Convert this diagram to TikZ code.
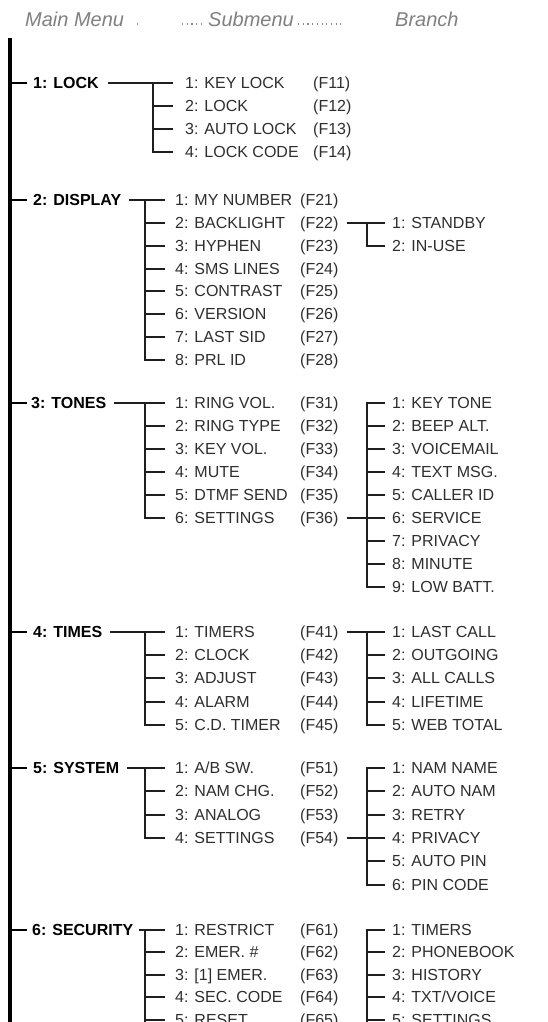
\documentclass[tikz,border=0pt]{standalone}
\usepackage{fontspec}
\setmainfont{Liberation Sans}
\begin{document}
\begin{tikzpicture}[x=1pt,y=-1pt,
  txt/.style={anchor=west,inner sep=0pt,text height=11.7pt,text depth=0pt,font=\fontsize{16pt}{16pt}\selectfont,text=black!82},
  mainlbl/.style={txt,font=\fontsize{16pt}{16pt}\selectfont\bfseries,text=black},
  hdr/.style={anchor=west,inner sep=0pt,text height=14.6pt,text depth=0pt,font=\fontsize{20pt}{20pt}\selectfont\itshape,text=black!50},
  hdrdots/.style={black!45,line width=1.1pt,dash pattern=on 1.1pt off 3.6pt},
  conn/.style={line width=1.8pt,black!88},
  spine/.style={line width=3.6pt,black},
  tick/.style={line width=2.6pt,black},
]
\useasboundingbox (0,0) rectangle (547,1022);
\clip (0,0) rectangle (547,1022);

% header
\node[hdr] (hm) at (25,19) {Main Menu};
\node[hdr] (hs) at (208,19) {Submenu};
\node[hdr] (hb) at (395,19) {Branch};
\draw[hdrdots] ([xshift=13pt,yshift=-5pt]hm.east) -- ++(1,0);
\draw[hdrdots] ([xshift=-26pt,yshift=-5pt]hs.west) -- ([xshift=-5pt,yshift=-5pt]hs.west);
\draw[hdrdots] ([xshift=4pt,yshift=-5pt]hs.east) -- ([xshift=50pt,yshift=-5pt]hs.east);

% spine
\coordinate (top) at (10,38);
\coordinate (bot) at (10,1030);
\draw[spine] (top) -- (bot);

% ---------- 1: LOCK ----------
\node[mainlbl] (m1) at (33,83) {1: LOCK};
\node[txt] (s11) at (185,83) {1: KEY LOCK};   \node[txt] (f11) at (313,83) {(F11)};
\node[txt] (s12) at (185,106) {2: LOCK};      \node[txt] (f12) at (313,106) {(F12)};
\node[txt] (s13) at (185,129) {3: AUTO LOCK}; \node[txt] (f13) at (313,129) {(F13)};
\node[txt] (s14) at (185,152) {4: LOCK CODE}; \node[txt] (f14) at (313,152) {(F14)};
\draw[tick] (top |- m1.west) -- ([xshift=-6pt]m1.west);
\coordinate (v1) at (153,0);
\draw[conn] ([xshift=9pt]m1.east) -- ([xshift=-12pt]s11.west);
\draw[conn] (v1 |- s11.west) |- ([xshift=-12pt]s14.west);
\foreach \s in {s12,s13} \draw[conn] (v1 |- \s.west) -- ([xshift=-12pt]\s.west);

% ---------- 2: DISPLAY ----------
\node[mainlbl] (m2) at (33,200) {2: DISPLAY};
\node[txt] (s21) at (175,200) {1: MY NUMBER}; \node[txt] (f21) at (300,200) {(F21)};
\node[txt] (s22) at (175,223) {2: BACKLIGHT}; \node[txt] (f22) at (300,223) {(F22)};
\node[txt] (s23) at (175,246) {3: HYPHEN};    \node[txt] (f23) at (300,246) {(F23)};
\node[txt] (s24) at (175,269) {4: SMS LINES}; \node[txt] (f24) at (300,269) {(F24)};
\node[txt] (s25) at (175,291) {5: CONTRAST};  \node[txt] (f25) at (300,291) {(F25)};
\node[txt] (s26) at (175,314) {6: VERSION};   \node[txt] (f26) at (300,314) {(F26)};
\node[txt] (s27) at (175,337) {7: LAST SID};  \node[txt] (f27) at (300,337) {(F27)};
\node[txt] (s28) at (175,360) {8: PRL ID};    \node[txt] (f28) at (300,360) {(F28)};
\node[txt] (b21) at (392,223) {1: STANDBY};
\node[txt] (b22) at (392,246) {2: IN-USE};
\draw[tick] (top |- m2.west) -- ([xshift=-6pt]m2.west);
\coordinate (v2) at (145,0);
\draw[conn] ([xshift=8pt]m2.east) -- ([xshift=-10pt]s21.west);
\draw[conn] (v2 |- s21.west) |- ([xshift=-10pt]s28.west);
\foreach \s in {s22,s23,s24,s25,s26,s27} \draw[conn] (v2 |- \s.west) -- ([xshift=-10pt]\s.west);
\coordinate (w2) at (367,0);
\draw[conn] ([xshift=8pt]f22.east) -- ([xshift=-7pt]b21.west);
\draw[conn] (w2 |- b21.west) |- ([xshift=-7pt]b22.west);

% ---------- 3: TONES ----------
\node[mainlbl] (m3) at (31,403) {3: TONES};
\node[txt] (s31) at (175,403) {1: RING VOL.};  \node[txt] (f31) at (300,403) {(F31)};
\node[txt] (s32) at (175,426) {2: RING TYPE};  \node[txt] (f32) at (300,426) {(F32)};
\node[txt] (s33) at (175,449) {3: KEY VOL.};   \node[txt] (f33) at (300,449) {(F33)};
\node[txt] (s34) at (175,472) {4: MUTE};       \node[txt] (f34) at (300,472) {(F34)};
\node[txt] (s35) at (175,495) {5: DTMF SEND};  \node[txt] (f35) at (300,495) {(F35)};
\node[txt] (s36) at (175,518) {6: SETTINGS};   \node[txt] (f36) at (300,518) {(F36)};
\node[txt] (b31) at (392,403) {1: KEY TONE};
\node[txt] (b32) at (392,426) {2: BEEP ALT.};
\node[txt] (b33) at (392,449) {3: VOICEMAIL};
\node[txt] (b34) at (392,472) {4: TEXT MSG.};
\node[txt] (b35) at (392,495) {5: CALLER ID};
\node[txt] (b36) at (392,518) {6: SERVICE};
\node[txt] (b37) at (392,541) {7: PRIVACY};
\node[txt] (b38) at (392,564) {8: MINUTE};
\node[txt] (b39) at (392,587) {9: LOW BATT.};
\draw[tick] (top |- m3.west) -- ([xshift=-4pt]m3.west);
\coordinate (v3) at (145,0);
\draw[conn] ([xshift=8pt]m3.east) -- ([xshift=-10pt]s31.west);
\draw[conn] (v3 |- s31.west) |- ([xshift=-10pt]s36.west);
\foreach \s in {s32,s33,s34,s35} \draw[conn] (v3 |- \s.west) -- ([xshift=-10pt]\s.west);
\coordinate (w3) at (367,0);
\draw[conn] ([xshift=-7pt]b31.west) -| (w3 |- b39.west) -- ([xshift=-7pt]b39.west);
\foreach \b in {b32,b33,b34,b35,b37,b38} \draw[conn] (w3 |- \b.west) -- ([xshift=-7pt]\b.west);
\draw[conn] ([xshift=8pt]f36.east) -- ([xshift=-7pt]b36.west);

% ---------- 4: TIMES ----------
\node[mainlbl] (m4) at (33,632) {4: TIMES};
\node[txt] (s41) at (175,632) {1: TIMERS};     \node[txt] (f41) at (300,632) {(F41)};
\node[txt] (s42) at (175,655) {2: CLOCK};      \node[txt] (f42) at (300,655) {(F42)};
\node[txt] (s43) at (175,678) {3: ADJUST};     \node[txt] (f43) at (300,678) {(F43)};
\node[txt] (s44) at (175,702) {4: ALARM};      \node[txt] (f44) at (300,702) {(F44)};
\node[txt] (s45) at (175,725) {5: C.D. TIMER}; \node[txt] (f45) at (300,725) {(F45)};
\node[txt] (b41) at (392,632) {1: LAST CALL};
\node[txt] (b42) at (392,655) {2: OUTGOING};
\node[txt] (b43) at (392,678) {3: ALL CALLS};
\node[txt] (b44) at (392,702) {4: LIFETIME};
\node[txt] (b45) at (392,725) {5: WEB TOTAL};
\draw[tick] (top |- m4.west) -- ([xshift=-6pt]m4.west);
\coordinate (v4) at (145,0);
\draw[conn] ([xshift=8pt]m4.east) -- ([xshift=-10pt]s41.west);
\draw[conn] (v4 |- s41.west) |- ([xshift=-10pt]s45.west);
\foreach \s in {s42,s43,s44} \draw[conn] (v4 |- \s.west) -- ([xshift=-10pt]\s.west);
\coordinate (w4) at (367,0);
\draw[conn] ([xshift=8pt]f41.east) -- ([xshift=-7pt]b41.west);
\draw[conn] (w4 |- b41.west) |- ([xshift=-7pt]b45.west);
\foreach \b in {b42,b43,b44} \draw[conn] (w4 |- \b.west) -- ([xshift=-7pt]\b.west);

% ---------- 5: SYSTEM ----------
\node[mainlbl] (m5) at (33,768) {5: SYSTEM};
\node[txt] (s51) at (175,768) {1: A/B SW.};    \node[txt] (f51) at (300,768) {(F51)};
\node[txt] (s52) at (175,791) {2: NAM CHG.};   \node[txt] (f52) at (300,791) {(F52)};
\node[txt] (s53) at (175,815) {3: ANALOG};     \node[txt] (f53) at (300,815) {(F53)};
\node[txt] (s54) at (175,838) {4: SETTINGS};   \node[txt] (f54) at (300,838) {(F54)};
\node[txt] (b51) at (392,768) {1: NAM NAME};
\node[txt] (b52) at (392,791) {2: AUTO NAM};
\node[txt] (b53) at (392,815) {3: RETRY};
\node[txt] (b54) at (392,838) {4: PRIVACY};
\node[txt] (b55) at (392,861) {5: AUTO PIN};
\node[txt] (b56) at (392,885) {6: PIN CODE};
\draw[tick] (top |- m5.west) -- ([xshift=-6pt]m5.west);
\coordinate (v5) at (145,0);
\draw[conn] ([xshift=8pt]m5.east) -- ([xshift=-10pt]s51.west);
\draw[conn] (v5 |- s51.west) |- ([xshift=-10pt]s54.west);
\foreach \s in {s52,s53} \draw[conn] (v5 |- \s.west) -- ([xshift=-10pt]\s.west);
\coordinate (w5) at (367,0);
\draw[conn] ([xshift=-7pt]b51.west) -| (w5 |- b56.west) -- ([xshift=-7pt]b56.west);
\foreach \b in {b52,b53,b55} \draw[conn] (w5 |- \b.west) -- ([xshift=-7pt]\b.west);
\draw[conn] ([xshift=8pt]f54.east) -- ([xshift=-7pt]b54.west);

% ---------- 6: SECURITY ----------
\node[mainlbl] (m6) at (32,930) {6: SECURITY};
\node[txt] (s61) at (175,930)  {1: RESTRICT};   \node[txt] (f61) at (300,930)  {(F61)};
\node[txt] (s62) at (175,952)  {2: EMER. \#};   \node[txt] (f62) at (300,952)  {(F62)};
\node[txt] (s63) at (175,975)  {3: [1] EMER.};  \node[txt] (f63) at (300,975)  {(F63)};
\node[txt] (s64) at (175,997)  {4: SEC. CODE};  \node[txt] (f64) at (300,997)  {(F64)};
\node[txt] (s65) at (175,1020) {5: RESET};      \node[txt] (f65) at (300,1020) {(F65)};
\node[txt] (b61) at (392,930)  {1: TIMERS};
\node[txt] (b62) at (392,952)  {2: PHONEBOOK};
\node[txt] (b63) at (392,975)  {3: HISTORY};
\node[txt] (b64) at (392,997)  {4: TXT/VOICE};
\node[txt] (b65) at (392,1020) {5: SETTINGS};
\coordinate (end6) at (145,1030);
\coordinate (endb6) at (367,1030);
\draw[tick] (top |- m6.west) -- ([xshift=-5pt]m6.west);
\coordinate (v6) at (145,0);
\draw[conn] ([xshift=6pt]m6.east) -- ([xshift=-10pt]s61.west);
\draw[conn] (v6 |- s61.west) -- (end6);
\foreach \s in {s62,s63,s64,s65} \draw[conn] (v6 |- \s.west) -- ([xshift=-10pt]\s.west);
\coordinate (w6) at (367,0);
\draw[conn] ([xshift=-7pt]b61.west) -| (endb6);
\foreach \b in {b62,b63,b64,b65} \draw[conn] (w6 |- \b.west) -- ([xshift=-7pt]\b.west);
\end{tikzpicture}
\end{document}
